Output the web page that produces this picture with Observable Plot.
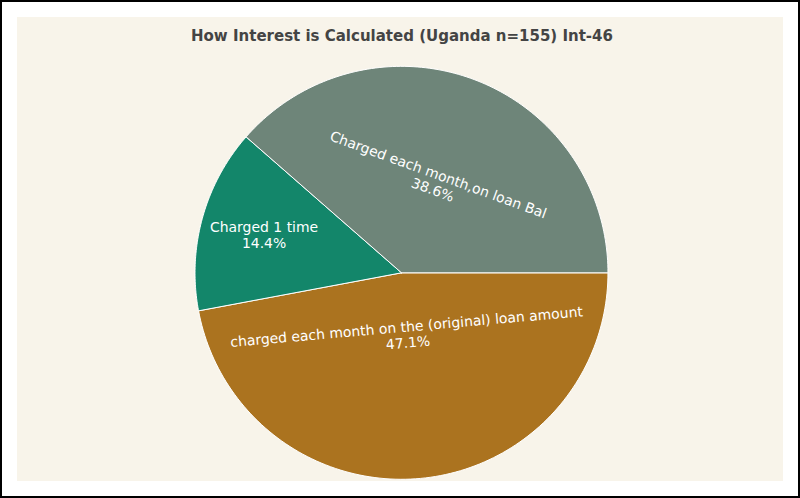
<!DOCTYPE html>
<html><head><meta charset="utf-8">
<script src="https://cdn.jsdelivr.net/npm/d3@7"></script>
<script src="https://cdn.jsdelivr.net/npm/@observablehq/plot@0.6"></script>
<style>
body{margin:0;background:#fff;font-family:"DejaVu Sans",sans-serif}
#wrap{position:relative;width:800px;height:498px;box-sizing:border-box;border:2px solid #000}
#panel{position:absolute;left:15px;top:15px;width:766px;height:464px;background:#f8f4ea}
#title{position:absolute;left:0;top:25px;width:800px;text-align:center;font-weight:bold;font-size:15px;color:#444}
#chart{position:absolute;left:-2px;top:-2px}
</style></head><body>
<div id="wrap"><div id="panel"></div><div id="chart"></div>
<div id="title">How Interest is Calculated (Uganda n=155) Int-46</div></div>
<script>
const categories = ["charged each month on the (original) loan amount", "Charged 1 time", "Charged each month,on loan Bal"];
const values = [47.1, 14.4, 38.6];
const colors = ["#ab731f", "#13866a", "#6e8579"];
const labelR = [0.3, 0.69, 0.47];
const labelRot = [-5, 0, 20];

const arcs = d3.pie().sort(null).startAngle(Math.PI/2).endAngle(Math.PI/2 + 2*Math.PI)(values);
const pts = [];
arcs.forEach((a, i) => {
  pts.push({k: categories[i], x: 0, y: 0});
  const n = 120;
  for (let j = 0; j <= n; j++) {
    const t = a.startAngle + (a.endAngle - a.startAngle) * j / n;
    pts.push({k: categories[i], x: Math.sin(t), y: Math.cos(t)});
  }
  pts.push({k: categories[i], x: 0, y: 0});
});
const labels = arcs.map((a, i) => {
  const m = (a.startAngle + a.endAngle) / 2;
  return {text: categories[i] + "\n" + values[i] + "%", x: labelR[i]*Math.sin(m), y: labelR[i]*Math.cos(m), r: labelRot[i]};
});
const p = Plot.plot({
  width: 800, height: 498,
  marginLeft: 195, marginRight: 191, marginTop: 66, marginBottom: 18,
  x: {domain: [-1, 1], axis: null},
  y: {domain: [-1, 1], axis: null},
  color: {domain: categories, range: colors},
  style: {background: "transparent"},
  marks: [
    Plot.line(pts, {x: "x", y: "y", z: "k", fill: "k", stroke: "#fff", strokeWidth: 1, curve: "linear"}),
    Plot.text(labels, {x: "x", y: "y", text: "text", rotate: "r", fill: "#fff", fontSize: 14, lineHeight: 1.15, fontFamily: "DejaVu Sans"})
  ]
});
document.getElementById("chart").appendChild(p);
</script></body></html>
